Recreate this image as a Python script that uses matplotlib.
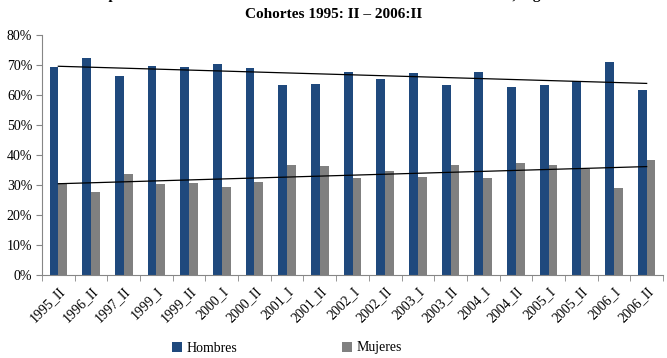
import numpy as np
import matplotlib
matplotlib.use("Agg")
import matplotlib.pyplot as plt
from matplotlib.ticker import PercentFormatter

plt.rcParams['font.family'] = ['Liberation Serif', 'DejaVu Serif']

# datos
cohortes = ['1995_II', '1996_II', '1997_II', '1999_I', '1999_II', '2000_I', '2000_II',
            '2001_I', '2001_II', '2002_I', '2002_II', '2003_I', '2003_II', '2004_I',
            '2004_II', '2005_I', '2005_II', '2006_I', '2006_II']
hombres = [69.4, 72.3, 66.2, 69.6, 69.4, 70.5, 68.9, 63.2, 63.7, 67.6,
           65.4, 67.4, 63.2, 67.6, 62.8, 63.2, 64.6, 71.1, 61.6]
mujeres = [30.6, 27.7, 33.8, 30.4, 30.6, 29.5, 31.1, 36.8, 36.3, 32.4,
           34.6, 32.6, 36.8, 32.4, 37.2, 36.8, 35.4, 28.9, 38.4]

color_h = '#1F497D'
color_m = '#808080'

fig = plt.figure(figsize=(6.67, 3.58), dpi=100)
ax = fig.add_axes([42 / 667, 1 - 275 / 358, 621 / 667, 240 / 358])

x = np.arange(len(cohortes))
w = 0.27
ax.bar(x - w / 2, hombres, w, color=color_h, label='Hombres', zorder=2)
ax.bar(x + w / 2, mujeres, w, color=color_m, label='Mujeres', zorder=2)

# lineas de tendencia lineal
for serie in (hombres, mujeres):
    p = np.polyfit(x, serie, 1)
    ax.plot(x, np.polyval(p, x), color='black', lw=0.9, zorder=3)

ax.set_xlim(-0.5, len(cohortes) - 0.5)
ax.set_ylim(0, 80)
ax.set_yticks(range(0, 81, 10))
ax.yaxis.set_major_formatter(PercentFormatter(decimals=0))
ax.set_xticks(x)
ax.set_xticklabels(cohortes, rotation=45, ha='right', rotation_mode='anchor', fontsize=10)
ax.set_xticks(np.arange(-0.5, len(cohortes), 1), minor=True)
ax.tick_params(axis='x', which='major', length=0, pad=7)
ax.tick_params(axis='x', which='minor', length=4, color='#868686', direction='out')
ax.tick_params(axis='y', length=4, color='#868686', labelsize=10, pad=3)

for s in ('top', 'right'):
    ax.spines[s].set_visible(False)
for s in ('left', 'bottom'):
    ax.spines[s].set_color('#868686')
    ax.spines[s].set_linewidth(0.8)

fig.text(0.5, 1 - 14 / 358, 'Cohortes 1995: II \u2013 2006:II', ha='center', va='center',
         fontsize=11, fontweight='bold')
fig.text(0.5, 1 + 5 / 358, 'Composición de la deserción estudiantil en la Universidad del Valle, según sexo',
         ha='center', va='center', fontsize=11, fontweight='bold')

fig.legend(loc='center', bbox_to_anchor=(287 / 667, 1 - 348 / 358), ncol=2, frameon=False,
           fontsize=10, handlelength=0.7, handleheight=0.7, handletextpad=0.3,
           columnspacing=7.6)

fig.savefig('out.png', dpi=100)
